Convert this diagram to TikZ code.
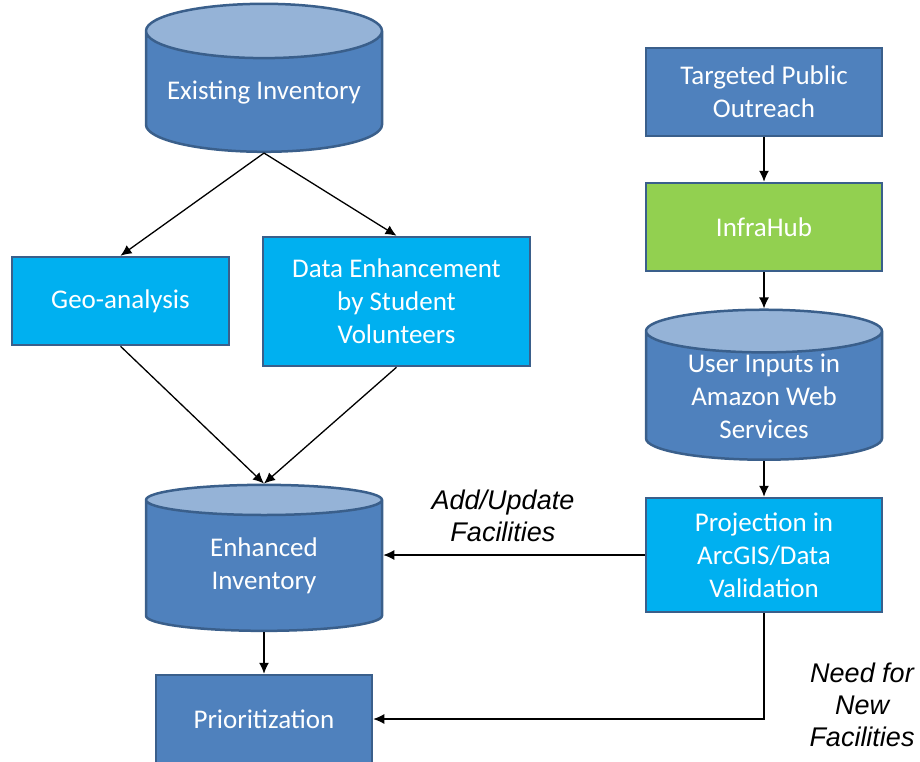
\documentclass[tikz,border=0pt]{standalone}
\usepackage{fontspec}
\setmainfont{Carlito}
\newfontfamily\notefont{Liberation Sans}
\usetikzlibrary{positioning,shapes.geometric,arrows.meta}

\definecolor{boxblue}{HTML}{4F81BD}
\definecolor{boxline}{HTML}{3A5F8B}
\definecolor{cyanbox}{HTML}{00B0F0}
\definecolor{hubgreen}{HTML}{92D050}
\definecolor{cantop}{HTML}{95B3D7}

\tikzset{
  block/.style={rectangle, draw=boxline, line width=2.5pt, fill=boxblue,
    text=white, align=center, font=\fontsize{27}{33}\selectfont,
    minimum width=236pt, minimum height=88pt, inner sep=0pt},
  lightblock/.style={block, fill=cyanbox},
  greenblock/.style={block, fill=hubgreen},
  store/.style={cylinder, shape border rotate=90, aspect=0.28,
    draw=boxline, line width=2.5pt, cylinder uses custom fill,
    cylinder body fill=boxblue, cylinder end fill=cantop,
    text=white, align=center, font=\fontsize{27}{33}\selectfont,
    minimum width=236pt, minimum height=148pt, inner sep=0pt},
  flow/.style={-{Latex[length=11pt,width=10pt]}, line width=1.3pt},
  note/.style={font=\notefont\itshape\fontsize{27}{32}\selectfont, align=center}
}

\begin{document}
\begin{tikzpicture}[x=1pt,y=-1pt,node distance=100pt,on grid]
  \useasboundingbox (0,0) rectangle (920,761);
  % left column
  \node[store] (exist) at (264,92) {Existing Inventory};
  \node[lightblock, minimum width=217pt] (geo) [below left=209pt and 143.5pt of exist] {Geo-analysis};
  \node[lightblock, minimum width=267pt, minimum height=129pt] (data) [below right=209.5pt and 132.5pt of exist] {Data Enhancement\\by Student\\Volunteers};
  \node[store, minimum height=146pt] (enh) [below=474pt of exist] {Enhanced\\Inventory};
  \node[block, minimum width=216pt] (prio) [below=153pt of enh] {Prioritization};
  % right column
  \node[block] (outreach) [right=500pt of exist] {Targeted Public\\Outreach};
  \node[greenblock] (infra) [below=135pt of outreach] {InfraHub};
  \node[store, minimum height=145pt] (user) [below=169pt of infra] {User Inputs in\\Amazon Web\\Services};
  \node[lightblock, minimum height=114pt] (proj) [below=159pt of user] {Projection in\\ArcGIS/Data\\Validation};
  % edge labels
  \node[note] (addlbl) at (503,516) {Add/Update\\Facilities};
  \node[note] (needlbl) at (862,705) {Need for\\New\\Facilities};

  \path[flow]
  (exist.south) edge (geo.north)
  (exist.south) edge (data.north)
  (geo.south) edge (enh.north)
  (data.south) edge (enh.north)
  (enh.south) edge (prio.north)
  (outreach) edge (infra)
  (infra) edge (user.north)
  (user.south) edge (proj.north)
  (proj.west) edge (proj.west -| enh.east);
  \draw[flow] (proj.south) |- (prio.east);
\end{tikzpicture}
\end{document}
